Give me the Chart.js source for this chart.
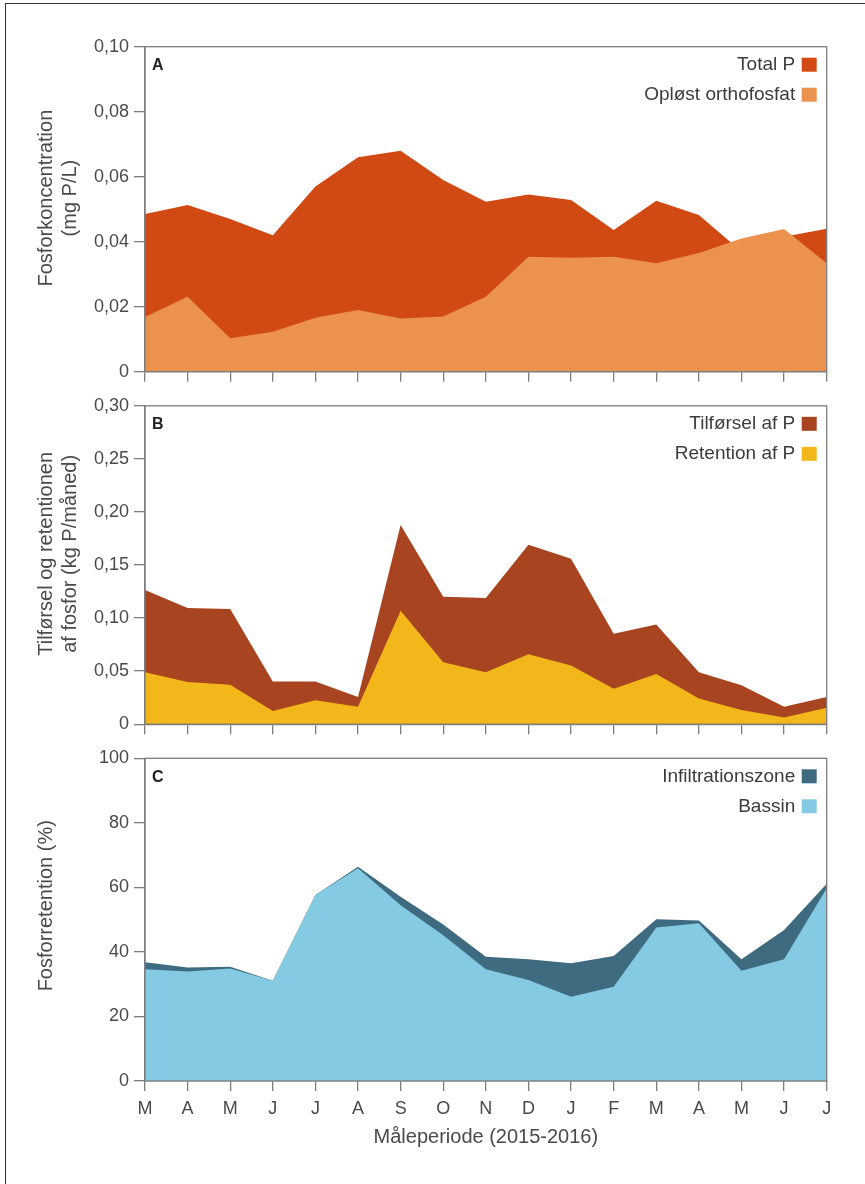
<!DOCTYPE html>
<html><head><meta charset="utf-8">
<script src="https://cdn.jsdelivr.net/npm/chart.js@4.4.1/dist/chart.umd.min.js"></script>
<style>
html,body{margin:0;padding:0;background:#fff;}
#wrap{position:relative;width:865px;height:1184px;overflow:hidden;background:#fff;}
#frame{position:absolute;left:5px;top:3px;width:900px;height:1300px;border-left:1.5px solid #333;border-top:1.5px solid #333;}
canvas{position:absolute;left:0;}
</style></head><body>
<div id="wrap"><div id="frame"></div>
<canvas id="cA" style="top:0px" width="865" height="390"></canvas>
<canvas id="cB" style="top:390px" width="865" height="350"></canvas>
<canvas id="cC" style="top:740px" width="865" height="444"></canvas>
</div>
<script>
// ---- data ----
const months = ['M','A','M','J','J','A','S','O','N','D','J','F','M','A','M','J','J'];
const totalP = [0.0485,0.0513,0.047,0.042,0.057,0.066,0.068,0.059,0.0523,0.0545,0.0528,0.0436,0.0526,0.0482,0.037,0.0415,0.044];
const orthoP = [0.0168,0.0231,0.0103,0.0123,0.0166,0.019,0.0164,0.017,0.0231,0.0354,0.0351,0.0354,0.0334,0.0365,0.041,0.0439,0.0334];
const tilfoersel = [0.1265,0.1094,0.1085,0.0403,0.0403,0.0257,0.1878,0.12,0.119,0.169,0.156,0.0853,0.094,0.049,0.0366,0.0164,0.0257];
const retention = [0.049,0.0397,0.0372,0.0124,0.0226,0.0164,0.107,0.0583,0.049,0.066,0.0552,0.0335,0.0474,0.0242,0.0133,0.0062,0.0155];
const infiltration = [36.8,35.2,35.4,31.1,57.6,66.4,57.1,48.5,38.5,37.7,36.5,38.7,50.1,49.7,37.7,46.8,61.1];
const bassin = [34.6,33.9,34.9,31.1,57.6,65.9,54.5,45.2,34.6,31.3,26.1,29.2,47.6,48.9,34.2,37.7,59.7];
const yTicksA = ['0','0,02','0,04','0,06','0,08','0,10'];
const yTicksB = ['0','0,05','0,10','0,15','0,20','0,25','0,30'];
const yTicksC = ['0','20','40','60','80','100'];

Chart.defaults.font.family = "'Liberation Sans', Arial, sans-serif";
const AXIS = '#7d7d7d', TXT = '#4a4a4a';

const decor = {
  id: 'decor',
  afterDatasetsDraw(chart, args, opts) {
    const {ctx, chartArea: a} = chart;
    ctx.save();
    ctx.strokeStyle = AXIS; ctx.lineWidth = 1.3;
    ctx.strokeRect(a.left, a.top, a.right - a.left, a.bottom - a.top);
    ctx.fillStyle = '#222'; ctx.font = "bold 16px 'Liberation Sans', Arial";
    ctx.textBaseline = 'middle'; ctx.textAlign = 'left';
    ctx.fillText(opts.letter, a.left + 7, a.top + 19);
    ctx.font = "19px 'Liberation Sans', Arial"; ctx.textAlign = 'right';
    chart.data.datasets.forEach((ds, i) => {
      const y = a.top + 18 + 30 * i;
      ctx.fillStyle = '#3c3c3c'; ctx.fillText(ds.label, a.right - 31.5, y);
      ctx.fillStyle = ds.backgroundColor; ctx.fillRect(a.right - 25, y - 7, 15, 14);
    });
    ctx.restore();
  }
};

function panel(id, datasets, tickArr, max, step, yTitle, showX, padTop, xHeight, letter) {
  new Chart(document.getElementById(id), {
    type: 'line',
    data: {labels: months, datasets: datasets.map(d => Object.assign({
      fill: 'origin', borderWidth: 0, pointRadius: 0, tension: 0
    }, d))},
    options: {
      responsive: false, animation: false,
      layout: {padding: {left: 0, right: 38.3, top: padTop, bottom: 0}},
      plugins: {legend: {display: false}, tooltip: {enabled: false}, decor: {letter}},
      scales: {
        x: {
          offset: false,
          grid: {drawOnChartArea: false, drawTicks: true, tickLength: 10, color: AXIS, lineWidth: 1.3},
          border: {display: true, color: AXIS, width: 1.3},
          ticks: {display: showX, autoSkip: false, maxRotation: 0, minRotation: 0, padding: 7, color: TXT, font: {size: 18}},
          title: {display: showX, text: 'Måleperiode (2015-2016)', color: TXT, font: {size: 20, lineHeight: 1.2}, padding: {top: 0, bottom: 35}},
          afterFit(s) { s.height = xHeight; }
        },
        y: {
          min: 0, max: max,
          grid: {drawOnChartArea: false, drawTicks: true, tickLength: 11, color: AXIS, lineWidth: 1.3},
          border: {display: true, color: AXIS, width: 1.3},
          ticks: {stepSize: step, padding: 5, color: TXT, font: {size: 18},
                  callback: (v) => tickArr[Math.round(v / step)]},
          title: {display: true, text: yTitle, color: TXT, font: {size: 20, lineHeight: 1.2}, padding: {top: 34, bottom: 0}},
          afterFit(s) { s.width = 145; }
        }
      }
    },
    plugins: [decor]
  });
}

panel('cA', [
  {label: 'Total P', data: totalP, backgroundColor: '#D14A14', order: 1},
  {label: 'Opløst orthofosfat', data: orthoP, backgroundColor: '#EC924F', order: 0}
], yTicksA, 0.1, 0.02, ['    Fosforkoncentration', '    (mg P/L)'], false, 46.7, 18.3, 'A');

panel('cB', [
  {label: 'Tilførsel af P', data: tilfoersel, backgroundColor: '#A8441F', order: 1},
  {label: 'Retention af P', data: retention, backgroundColor: '#F2B71A', order: 0}
], yTicksB, 0.3, 0.05, ['    Tilførsel og retentionen', '    af fosfor (kg P/måned)'], false, 13.3, 14, 'B');

panel('cC', [
  {label: 'Infiltrationszone', data: infiltration, backgroundColor: '#3F6B80', order: 1},
  {label: 'Bassin', data: bassin, backgroundColor: '#84CAE2', order: 0}
], yTicksC, 100, 20, '     Fosforretention (%)', true, 18.3, 103, 'C');
</script>
</body></html>
